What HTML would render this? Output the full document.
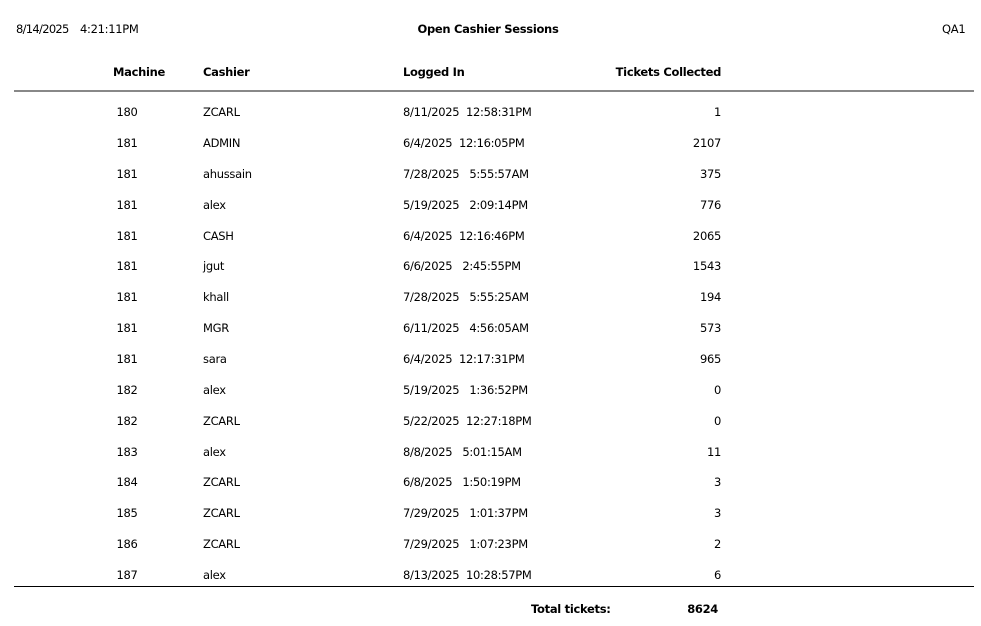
<!DOCTYPE html>
<html><head><meta charset="utf-8"><style>
body{margin:0;width:981px;height:626px;background:#fff;position:relative;font-family:"DejaVu Sans","Liberation Sans",sans-serif;font-size:11.5px;color:#000;overflow:hidden;letter-spacing:-0.3px}
div{position:absolute;white-space:pre;line-height:14px}
.b{font-weight:bold}
.m{width:40px;text-align:center;left:107px}
.t{width:120px;text-align:right;left:601px}
</style></head><body>
<div style="left:16px;top:22px;letter-spacing:-0.7px">8/14/2025</div>
<div style="left:80px;top:22px">4:21:11PM</div>
<div class="b" style="left:388px;top:22px;width:200px;text-align:center">Open Cashier Sessions</div>
<div style="left:942px;top:22px">QA1</div>
<div class="b" style="left:113px;top:65px">Machine</div>
<div class="b" style="left:203px;top:65px">Cashier</div>
<div class="b" style="left:403px;top:65px">Logged In</div>
<div class="b t" style="top:65px">Tickets Collected</div>
<div style="left:14px;top:90px;width:960px;height:2px;background:#888"></div>
<div style="left:14px;top:586px;width:960px;height:1px;background:#000"></div>
<div class="b" style="left:531px;top:602px">Total tickets:</div>
<div class="b" style="left:600px;top:602px;width:118px;text-align:right">8624</div>
<div id="rows"></div>
<script>
var d=[["180","ZCARL","8/11/2025  12:58:31PM","1"],["181","ADMIN","6/4/2025  12:16:05PM","2107"],["181","ahussain","7/28/2025   5:55:57AM","375"],["181","alex","5/19/2025   2:09:14PM","776"],["181","CASH","6/4/2025  12:16:46PM","2065"],["181","jgut","6/6/2025   2:45:55PM","1543"],["181","khall","7/28/2025   5:55:25AM","194"],["181","MGR","6/11/2025   4:56:05AM","573"],["181","sara","6/4/2025  12:17:31PM","965"],["182","alex","5/19/2025   1:36:52PM","0"],["182","ZCARL","5/22/2025  12:27:18PM","0"],["183","alex","8/8/2025   5:01:15AM","11"],["184","ZCARL","6/8/2025   1:50:19PM","3"],["185","ZCARL","7/29/2025   1:01:37PM","3"],["186","ZCARL","7/29/2025   1:07:23PM","2"],["187","alex","8/13/2025  10:28:57PM","6"]];
var h="";d.forEach(function(r,i){var y=(105+i*30.87).toFixed(1);
h+='<div class="m" style="top:'+y+'px">'+r[0]+'</div><div style="left:203px;top:'+y+'px">'+r[1]+'</div><div style="left:403px;top:'+y+'px">'+r[2]+'</div><div class="t" style="top:'+y+'px">'+r[3]+'</div>';});
document.body.insertAdjacentHTML('beforeend',h);
</script>
</body></html>
